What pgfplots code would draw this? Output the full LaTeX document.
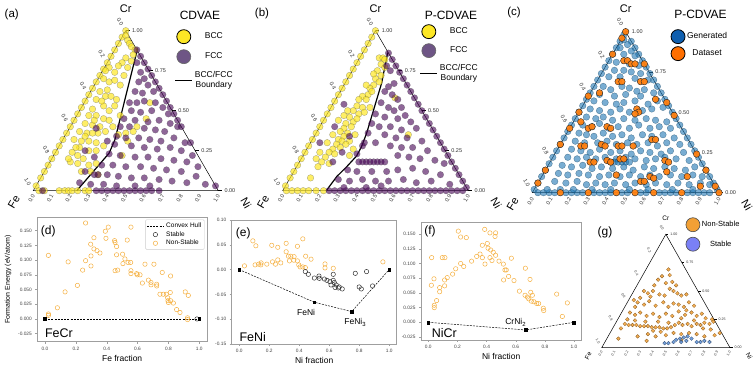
\documentclass[border=0pt]{standalone}
\usepackage{pgfplots}
\pgfplotsset{compat=1.18}
\usepackage{fontspec}
\setmainfont{Liberation Sans}

\definecolor{vy}{HTML}{FDE725}
\definecolor{vp}{HTML}{440154}
\definecolor{legP}{HTML}{6E5585}
\definecolor{tb}{HTML}{1F77B4}
\definecolor{to}{HTML}{FF7F0E}
\definecolor{legB}{HTML}{0F5FAF}
\definecolor{legO}{HTML}{FF6F00}
\definecolor{nso}{HTML}{F5B041}
\definecolor{gO}{HTML}{F2A035}
\definecolor{gB}{HTML}{5B8FD6}
\definecolor{legS}{HTML}{7A80F5}

\pgfplotsset{
  tern/.style={scale only axis, anchor=south west, xmin=0, xmax=1, ymin=0, ymax=1,
    hide axis, clip=false, legend cell align=center,
    legend style={draw=none, fill=none, anchor=north west, inner sep=0pt,
      font=\fontsize{8.5}{10}\selectfont, nodes={align=center}}},
  ye/.style={only marks, mark=*, mark size=3.3pt, forget plot,
    mark options={fill=vy, fill opacity=0.7, draw=black!70, draw opacity=0.5, line width=0.3pt}},
  pu/.style={only marks, mark=*, mark size=3.3pt, forget plot,
    mark options={fill=vp, fill opacity=0.6, draw=black!70, draw opacity=0.5, line width=0.3pt}},
  gb/.style={only marks, mark=*, mark size=3.3pt, forget plot,
    mark options={fill=tb, fill opacity=0.6, draw=tb!50!black, draw opacity=0.6, line width=0.3pt}},
  go/.style={only marks, mark=*, mark size=3.3pt, forget plot,
    mark options={fill=to, fill opacity=0.95, draw=black!85, line width=0.4pt}},
  sc/.style={scale only axis, anchor=south west,
    axis line style={gray!75, line width=0.5pt},
    tick style={gray!75, line width=0.4pt}, tick align=outside, major tick length=2pt,
    xtick pos=bottom, ytick pos=left, scaled ticks=false,
    ticklabel style={font=\fontsize{4.8}{5}\selectfont, text=black!75},
    /pgf/number format/assume math mode=true,
    xticklabel style={/pgf/number format/.cd, fixed, fixed zerofill, precision=1},
    xtick={0,0.2,0.4,0.6,0.8,1.0}, xmin=-0.05, xmax=1.05,
    xlabel style={font=\fontsize{8.5}{10}\selectfont, yshift=2pt},
    ylabel style={font=\fontsize{7}{8}\selectfont}},
  nons/.style={only marks, mark=o, mark size=2.2pt, mark options={draw=nso, line width=0.5pt}},
  stab/.style={only marks, mark=o, mark size=2.2pt, mark options={draw=black!80, line width=0.5pt}},
  hull/.style={black, dash pattern=on 2pt off 1.2pt, line width=0.5pt},
  hullpts/.style={only marks, mark=square*, mark size=1.4pt, black, forget plot}
}

% ternary frame, tick labels and corner labels; #1 tick font size, #2 corner font size
\newcommand\ternframe[2]{%
  \draw[line width=0.5pt] (axis cs:0,0) -- (axis cs:1,0) -- (axis cs:0.5,1) -- cycle;
  \draw[line width=0.4pt] (axis cs:0.5,1) -- (axis cs:0.52,1) (axis cs:0.625,0.75) -- (axis cs:0.645,0.75)
    (axis cs:0.75,0.5) -- (axis cs:0.77,0.5) (axis cs:0.875,0.25) -- (axis cs:0.895,0.25)
    (axis cs:1,0) -- (axis cs:1.02,0);
  \begin{scope}[every node/.style={font=\fontsize{#1}{#1}\selectfont, text=black!80, inner sep=0.5pt}]
  \node[rotate=-60] at (axis cs:0.47,1.058) {0.0};
  \node[rotate=-60] at (axis cs:0.37,0.858) {0.2};
  \node[rotate=-60] at (axis cs:0.27,0.658) {0.4};
  \node[rotate=-60] at (axis cs:0.17,0.458) {0.6};
  \node[rotate=-60] at (axis cs:0.07,0.258) {0.8};
  \node[rotate=-60] at (axis cs:-0.03,0.058) {1.0};
  \node[anchor=west] at (axis cs:0.53,1) {1.00};
  \node[anchor=west] at (axis cs:0.655,0.75) {0.75};
  \node[anchor=west] at (axis cs:0.78,0.5) {0.50};
  \node[anchor=west] at (axis cs:0.905,0.25) {0.25};
  \node[anchor=west] at (axis cs:1.03,0) {0.00};
  \node[rotate=60] at (axis cs:-0.009,-0.05) {0.0};
  \node[rotate=60] at (axis cs:0.091,-0.05) {0.1};
  \node[rotate=60] at (axis cs:0.191,-0.05) {0.2};
  \node[rotate=60] at (axis cs:0.291,-0.05) {0.3};
  \node[rotate=60] at (axis cs:0.391,-0.05) {0.4};
  \node[rotate=60] at (axis cs:0.491,-0.05) {0.5};
  \node[rotate=60] at (axis cs:0.591,-0.05) {0.6};
  \node[rotate=60] at (axis cs:0.691,-0.05) {0.7};
  \node[rotate=60] at (axis cs:0.791,-0.05) {0.8};
  \node[rotate=60] at (axis cs:0.891,-0.05) {0.9};
  \node[rotate=60] at (axis cs:0.991,-0.05) {1.0};
  \end{scope}
  \node[font=\fontsize{#2}{#2}\selectfont] at (axis cs:0.5,1.14) {Cr};
  \node[font=\fontsize{#2}{#2}\selectfont, rotate=60] at (axis cs:-0.105,-0.07) {Fe};
  \node[font=\fontsize{#2}{#2}\selectfont, rotate=-60] at (axis cs:1.15,-0.075) {Ni};
}

\begin{document}
\begin{tikzpicture}[x=1pt,y=1pt]
\useasboundingbox (0,0) rectangle (754,366);

% ---------------- (a) CDVAE ----------------
\begin{axis}[tern, at={(33.3pt,175.3pt)}, width=185pt, height=160pt,
  legend style={at={(0.763,1.0075)}, row sep=6pt}]
\addlegendimage{only marks, mark=*, mark size=7pt, mark options={fill=vy, draw=black, line width=0.8pt}}
\addlegendentry{BCC}
\addlegendimage{only marks, mark=*, mark size=7pt, mark options={fill=legP, draw=black!60, line width=0.6pt}}
\addlegendentry{FCC}
\addlegendimage{black, line width=1.2pt}
\addlegendentry{BCC/FCC\\Boundary}
\ternframe{5.5}{11}
\addplot[ye] coordinates {
(0.015,0.03)(0.04,0.08)(0.06,0.12)(0.08,0.16)(0.10,0.20)(0.12,0.24)(0.14,0.28)(0.16,0.32)(0.18,0.36)
(0.20,0.40)(0.22,0.44)(0.24,0.48)(0.26,0.52)(0.28,0.56)(0.30,0.60)(0.32,0.64)(0.34,0.68)(0.36,0.72)
(0.38,0.76)(0.40,0.80)(0.42,0.84)(0.44,0.88)(0.46,0.92)(0.48,0.96)(0.50,1.0)
(0.03,0)(0.06,0)(0.14,0)(0.17,0)(0.19,0)(0.21,0)(0.24,0)(0.28,0)(0.30,0)
(0.50,0.97)(0.51,0.94)(0.52,0.92)(0.53,0.90)(0.55,0.88)(0.54,0.85)(0.50,0.83)(0.53,0.81)(0.48,0.80)
(0.51,0.77)(0.46,0.78)(0.41,0.77)(0.44,0.74)(0.38,0.70)(0.41,0.68)(0.44,0.69)(0.47,0.66)(0.49,0.72)
(0.39,0.75)(0.36,0.62)(0.39,0.59)(0.42,0.59)(0.45,0.57)(0.34,0.57)(0.38,0.53)(0.44,0.53)(0.41,0.50)
(0.32,0.51)(0.30,0.47)(0.34,0.47)(0.38,0.45)(0.41,0.44)(0.28,0.42)(0.32,0.41)(0.36,0.40)(0.43,0.40)
(0.25,0.37)(0.29,0.36)(0.35,0.36)(0.39,0.37)(0.22,0.32)(0.26,0.31)(0.30,0.31)(0.34,0.30)(0.38,0.28)
(0.25,0.27)(0.30,0.25)(0.34,0.25)(0.21,0.24)(0.24,0.22)(0.20,0.18)(0.24,0.17)(0.30,0.16)(0.34,0.17)
(0.26,0.12)(0.31,0.12)(0.19,0.20)(0.27,0.20)(0.61,0.45)(0.51,0.31)(0.56,0.40)(0.54,0.37)(0.50,0.36)
(0.63,0.55)(0.48,0.22)(0.35,0.10)(0.47,0.47)(0.46,0.35)(0.32,0.36)(0.23,0.27)(0.28,0.34)(0.40,0.63)
(0.37,0.56)(0.33,0.44)
};
\addplot[pu] coordinates {
(0.80,0.40)(0.78,0.44)(0.76,0.48)(0.74,0.52)(0.72,0.56)(0.70,0.60)(0.68,0.64)(0.66,0.68)(0.64,0.72)
(0.62,0.76)(0.60,0.80)(0.58,0.84)(0.56,0.88)(0.85,0.30)(0.985,0.03)
(0.34,0)(0.37,0)(0.40,0)(0.43,0)(0.46,0)(0.49,0)(0.52,0)(0.55,0)(0.58,0)(0.61,0)(0.64,0)(0.68,0)(0.05,0)
(0.56,0.80)(0.58,0.74)(0.60,0.70)(0.57,0.68)(0.62,0.66)(0.55,0.62)(0.59,0.61)(0.65,0.62)
(0.52,0.55)(0.56,0.55)(0.60,0.56)(0.66,0.55)(0.70,0.52)(0.53,0.50)(0.58,0.49)(0.64,0.50)(0.73,0.48)
(0.49,0.45)(0.55,0.44)(0.62,0.43)(0.68,0.44)(0.74,0.42)(0.78,0.40)(0.47,0.40)(0.52,0.40)(0.60,0.39)
(0.66,0.38)(0.71,0.37)(0.45,0.34)(0.50,0.33)(0.57,0.33)(0.63,0.32)(0.69,0.31)(0.76,0.33)(0.82,0.30)
(0.44,0.29)(0.53,0.28)(0.60,0.27)(0.67,0.26)(0.74,0.27)(0.80,0.25)(0.86,0.22)
(0.41,0.23)(0.47,0.22)(0.55,0.21)(0.62,0.21)(0.69,0.20)(0.76,0.19)(0.83,0.18)(0.89,0.15)
(0.37,0.16)(0.43,0.16)(0.50,0.15)(0.58,0.15)(0.65,0.14)(0.72,0.13)(0.80,0.12)(0.88,0.09)
(0.33,0.10)(0.40,0.10)(0.46,0.09)(0.53,0.08)(0.60,0.08)(0.68,0.07)(0.75,0.06)(0.83,0.05)(0.93,0.04)
(0.25,0.05)(0.31,0.04)(0.38,0.04)(0.45,0.03)(0.55,0.03)(0.63,0.03)
(0.35,0.10)(0.28,0.12)(0.33,0.21)(0.40,0.31)(0.34,0.39)(0.28,0.25)
};
\addplot[black, line width=1.2pt, forget plot] coordinates {
(0.564,0.889)(0.441,0.318)(0.41,0.235)(0.235,0)};
\end{axis}

% ---------------- (b) P-CDVAE ----------------
\begin{axis}[tern, at={(282.7pt,175.3pt)}, width=185.6pt, height=160pt,
  legend style={at={(0.737,1.039)}, row sep=5pt}]
\addlegendimage{only marks, mark=*, mark size=7pt, mark options={fill=vy, draw=black, line width=0.8pt}}
\addlegendentry{BCC}
\addlegendimage{only marks, mark=*, mark size=7pt, mark options={fill=legP, draw=black!60, line width=0.6pt}}
\addlegendentry{FCC}
\addlegendimage{black, line width=1.2pt}
\addlegendentry{BCC/FCC\\Boundary}
\ternframe{5.5}{11}
\addplot[ye] coordinates {
(0.015,0.03)(0.04,0.08)(0.06,0.12)(0.08,0.16)(0.10,0.20)(0.12,0.24)(0.14,0.28)(0.16,0.32)(0.18,0.36)
(0.20,0.40)(0.22,0.44)(0.24,0.48)(0.26,0.52)(0.28,0.56)(0.30,0.60)(0.32,0.64)(0.34,0.68)(0.36,0.72)
(0.38,0.76)(0.40,0.80)(0.42,0.84)(0.44,0.88)(0.46,0.92)(0.48,0.96)(0.50,1.0)
(0.02,0)(0.05,0)(0.08,0)(0.11,0)(0.14,0)(0.18,0)(0.22,0)
(0.52,0.83)(0.54,0.83)(0.55,0.82)(0.53,0.79)(0.55,0.77)(0.51,0.75)(0.53,0.72)(0.50,0.70)(0.52,0.68)
(0.49,0.66)(0.47,0.64)(0.45,0.66)(0.46,0.60)(0.43,0.59)(0.41,0.57)(0.45,0.57)(0.40,0.53)(0.43,0.52)
(0.38,0.50)(0.41,0.48)(0.36,0.46)(0.38,0.43)(0.34,0.42)(0.37,0.40)(0.33,0.39)(0.35,0.36)(0.31,0.37)
(0.33,0.34)(0.30,0.32)(0.32,0.31)(0.29,0.29)(0.31,0.27)(0.27,0.26)(0.25,0.24)(0.28,0.23)(0.23,0.21)
(0.21,0.18)(0.25,0.17)(0.19,0.15)(0.15,0.08)(0.36,0.31)(0.39,0.35)(0.34,0.29)(0.30,0.44)(0.33,0.47)
(0.35,0.50)(0.27,0.35)(0.24,0.30)(0.40,0.45)(0.44,0.49)(0.48,0.62)(0.49,0.73)(0.47,0.52)(0.36,0.22)
(0.20,0.24)(0.18,0.20)(0.38,0.26)(0.605,0.58)(0.677,0.35)
};
\addplot[pu] coordinates {
(0.99,0.02)(0.97,0.06)(0.95,0.10)(0.93,0.14)(0.91,0.18)(0.89,0.22)(0.87,0.26)(0.85,0.30)(0.83,0.34)
(0.81,0.38)(0.79,0.42)(0.77,0.46)(0.75,0.50)(0.73,0.54)(0.71,0.58)(0.69,0.62)(0.67,0.66)(0.65,0.70)
(0.63,0.74)(0.61,0.78)(0.59,0.82)(0.57,0.86)
(0.25,0)(0.28,0)(0.31,0)(0.34,0)(0.37,0)(0.40,0)(0.43,0)(0.46,0)(0.49,0)(0.52,0)(0.55,0)(0.58,0)
(0.61,0)(0.64,0)(0.67,0)(0.70,0)(0.73,0)(0.76,0)(0.79,0)(0.82,0)(0.85,0)(0.88,0)(0.91,0)(0.94,0)(0.97,0)
(0.56,0.78)(0.58,0.75)(0.60,0.67)(0.57,0.65)(0.55,0.62)(0.59,0.60)(0.62,0.57)(0.53,0.55)(0.57,0.52)
(0.60,0.50)(0.64,0.52)(0.50,0.48)(0.55,0.46)(0.62,0.45)(0.66,0.47)(0.69,0.43)(0.48,0.42)(0.52,0.40)
(0.58,0.40)(0.64,0.38)(0.72,0.39)(0.46,0.36)(0.55,0.35)(0.61,0.33)(0.67,0.33)(0.75,0.31)(0.44,0.30)
(0.50,0.30)(0.58,0.28)(0.64,0.27)(0.70,0.27)(0.78,0.25)
(0.41,0.18)(0.43,0.18)(0.45,0.18)(0.47,0.18)(0.49,0.18)(0.51,0.18)(0.53,0.18)(0.55,0.18)
(0.40,0.23)(0.62,0.22)(0.68,0.21)(0.74,0.20)(0.82,0.19)(0.87,0.17)
(0.35,0.13)(0.40,0.12)(0.48,0.12)(0.56,0.12)(0.62,0.13)(0.70,0.14)(0.77,0.12)(0.85,0.10)
(0.30,0.07)(0.36,0.06)(0.43,0.07)(0.50,0.06)(0.57,0.06)(0.65,0.07)(0.72,0.05)(0.80,0.06)(0.90,0.04)
(0.33,0.02)(0.45,0.02)(0.53,0.03)
(0.36,0.34)(0.32,0.24)(0.20,0.30)(0.27,0.18)(0.33,0.54)(0.28,0.40)(0.43,0.28)
};
\addplot[black, line width=1.2pt, forget plot] coordinates {
(0.566,0.864)(0.551,0.777)(0.533,0.672)(0.506,0.568)(0.479,0.463)(0.452,0.359)(0.425,0.276)
(0.398,0.217)(0.345,0.150)(0.291,0.088)(0.241,0.010)(0.235,0)};
\end{axis}

% ---------------- (c) generated vs dataset ----------------
\begin{axis}[tern, at={(532.3pt,173.3pt)}, width=186.7pt, height=161pt,
  legend style={at={(0.742,1.014)}, row sep=3pt}]
\addlegendimage{only marks, mark=*, mark size=7pt, mark options={fill=legB, draw=black, line width=0.8pt}}
\addlegendentry{Generated}
\addlegendimage{only marks, mark=*, mark size=7pt, mark options={fill=legO, draw=black, line width=0.8pt}}
\addlegendentry{Dataset}
\ternframe{5.5}{11}
\addplot[gb] coordinates {
(0.01,0.02)(0.03,0.06)(0.05,0.10)(0.07,0.14)(0.09,0.18)(0.11,0.22)(0.13,0.26)(0.15,0.30)(0.17,0.34)
(0.19,0.38)(0.21,0.42)(0.23,0.46)(0.25,0.50)(0.27,0.54)(0.29,0.58)(0.31,0.62)(0.33,0.66)(0.35,0.70)
(0.37,0.74)(0.39,0.78)(0.41,0.82)(0.43,0.86)(0.45,0.90)(0.47,0.94)(0.49,0.98)
(0.99,0.02)(0.97,0.06)(0.95,0.10)(0.93,0.14)(0.91,0.18)(0.89,0.22)(0.87,0.26)(0.85,0.30)(0.83,0.34)
(0.81,0.38)(0.79,0.42)(0.77,0.46)(0.75,0.50)(0.73,0.54)(0.71,0.58)(0.69,0.62)(0.67,0.66)(0.65,0.70)
(0.63,0.74)(0.61,0.78)(0.59,0.82)(0.57,0.86)(0.55,0.90)(0.53,0.94)
(0.03,0)(0.06,0)(0.09,0)(0.12,0)(0.18,0)(0.21,0)(0.24,0)(0.27,0)(0.33,0)(0.36,0)(0.39,0)(0.42,0)
(0.48,0)(0.51,0)(0.58,0)(0.61,0)(0.68,0)(0.71,0)(0.74,0)(0.77,0)(0.83,0)(0.86,0)(0.89,0)(0.92,0)(0.95,0)
(0.49,0.95)(0.51,0.92)(0.47,0.90)(0.53,0.88)(0.49,0.86)(0.55,0.85)
(0.45,0.81)(0.52,0.80)(0.57,0.79)(0.44,0.76)(0.49,0.76)(0.53,0.75)(0.58,0.74)(0.41,0.72)(0.47,0.72)
(0.55,0.71)(0.62,0.70)
(0.38,0.66)(0.42,0.64)(0.48,0.66)(0.52,0.65)(0.56,0.63)(0.60,0.64)(0.65,0.62)(0.36,0.61)(0.44,0.60)
(0.50,0.61)(0.58,0.60)
(0.33,0.57)(0.39,0.56)(0.45,0.55)(0.49,0.56)(0.55,0.57)(0.62,0.55)(0.67,0.57)(0.31,0.52)(0.36,0.51)
(0.42,0.50)(0.47,0.52)(0.52,0.50)(0.59,0.51)(0.64,0.52)(0.70,0.53)
(0.29,0.47)(0.34,0.46)(0.38,0.47)(0.43,0.45)(0.49,0.46)(0.55,0.45)(0.61,0.46)(0.66,0.45)(0.72,0.44)
(0.27,0.42)(0.32,0.41)(0.36,0.43)(0.41,0.40)(0.46,0.41)(0.52,0.40)(0.57,0.42)(0.63,0.40)(0.68,0.41)
(0.74,0.40)
(0.25,0.37)(0.29,0.36)(0.33,0.35)(0.38,0.37)(0.43,0.35)(0.48,0.36)(0.53,0.34)(0.59,0.36)(0.64,0.35)
(0.70,0.36)(0.76,0.34)(0.23,0.32)(0.28,0.31)(0.35,0.31)(0.40,0.32)(0.45,0.30)(0.51,0.31)(0.56,0.30)
(0.62,0.31)(0.67,0.29)(0.72,0.31)(0.79,0.30)
(0.21,0.27)(0.26,0.26)(0.31,0.25)(0.36,0.27)(0.42,0.25)(0.47,0.26)(0.53,0.24)(0.58,0.26)(0.63,0.25)
(0.69,0.24)(0.74,0.26)(0.81,0.25)(0.19,0.22)(0.24,0.21)(0.29,0.22)(0.34,0.21)(0.39,0.22)(0.45,0.21)
(0.50,0.22)(0.55,0.21)(0.61,0.20)(0.66,0.21)(0.71,0.22)(0.77,0.21)(0.84,0.20)
(0.42,0.19)(0.44,0.19)(0.46,0.19)(0.48,0.19)(0.50,0.19)(0.52,0.19)
(0.16,0.17)(0.21,0.16)(0.27,0.17)(0.32,0.15)(0.37,0.16)(0.43,0.15)(0.49,0.16)(0.54,0.14)(0.60,0.16)
(0.65,0.15)(0.71,0.16)(0.76,0.15)(0.82,0.14)(0.87,0.16)(0.14,0.12)(0.19,0.11)(0.25,0.12)(0.30,0.11)
(0.36,0.10)(0.41,0.11)(0.47,0.10)(0.52,0.11)(0.58,0.10)(0.63,0.11)(0.68,0.10)(0.74,0.11)(0.80,0.10)
(0.86,0.11)(0.91,0.10)
(0.12,0.07)(0.18,0.06)(0.24,0.07)(0.29,0.05)(0.34,0.06)(0.39,0.05)(0.44,0.06)(0.50,0.05)(0.55,0.06)
(0.61,0.05)(0.66,0.06)(0.72,0.05)(0.78,0.06)(0.84,0.05)(0.90,0.06)(0.95,0.05)(0.08,0.02)(0.15,0.02)
(0.22,0.02)(0.32,0.02)(0.42,0.02)(0.52,0.02)(0.62,0.02)(0.75,0.02)(0.86,0.02)
};
\addplot[go] coordinates {
(0.49,0.82)(0.51,0.82)(0.53,0.80)(0.55,0.80)(0.46,0.69)(0.48,0.69)(0.58,0.69)(0.60,0.69)(0.56,0.52)
(0.57,0.50)(0.55,0.49)(0.30,0.40)(0.32,0.41)(0.40,0.41)(0.42,0.40)(0.26,0.29)(0.28,0.29)(0.37,0.30)
(0.39,0.29)(0.46,0.29)(0.48,0.29)(0.54,0.29)(0.64,0.33)(0.66,0.33)(0.31,0.19)(0.33,0.19)(0.40,0.20)
(0.42,0.19)(0.47,0.21)(0.49,0.21)(0.71,0.20)(0.73,0.19)(0.63,0.10)(0.65,0.09)(0.45,0.11)(0.58,0.07)
(0.60,0.07)(0.83,0.10)(0.26,0.44)(0.66,0.58)(0.36,0.62)(0.72,0.13)(0.90,0.04)
(0.48,0.96)(0.43,0.86)(0.30,0.60)(0.25,0.50)(0.20,0.40)(0.15,0.30)(0.07,0.14)(0.03,0.06)
(0.15,0)(0.30,0)(0.45,0)(0.55,0)(0.65,0)(0.80,0)(1.0,0)
(0.60,0.80)(0.72,0.56)(0.76,0.48)(0.88,0.24)(0.93,0.14)(0.98,0.04)(0.5,1.0)
};
\end{axis}

% ---------------- (d) FeCr ----------------
\begin{axis}[sc, at={(37.3pt,24.3pt)}, width=169.7pt, height=124pt,
  ymin=-0.0386, ymax=0.172,
  ytick={-0.025,0,0.025,0.05,0.075,0.1,0.125,0.15},
  yticklabel style={/pgf/number format/.cd, fixed, fixed zerofill, precision=3},
  xlabel={Fe fraction}, ylabel={Formation Energy (eV/atom)},
  legend style={at={(0.985,0.985)}, anchor=north east, draw=gray!40, rounded corners=1pt,
    font=\fontsize{6.5}{7}\selectfont, inner sep=1pt, row sep=-1.5pt},
  legend cell align=left]
\addplot[hull] coordinates {(0,0)(1,0)};
\addlegendentry{Convex Hull}
\addplot[stab] coordinates {(0.985,0)};
\addlegendentry{Stable}
\addplot[nons] coordinates {
(0.022,0.108)(0.022,0.0085)(0.022,0.006)(0.08,0.019)(0.13,0.046)(0.15,0.097)(0.21,0.057)(0.244,0.083)
(0.263,0.099)(0.263,0.163)(0.298,0.090)(0.298,0.107)(0.296,0.127)(0.317,0.138)(0.317,0.119)
(0.337,0.116)(0.356,0.112)(0.395,0.137)(0.391,0.149)(0.41,0.156)(0.454,0.082)(0.471,0.083)
(0.451,0.133)(0.454,0.130)(0.464,0.123)(0.464,0.109)(0.503,0.110)(0.518,0.102)(0.505,0.094)
(0.538,0.096)(0.533,0.134)(0.557,0.156)(0.555,0.096)(0.557,0.082)(0.557,0.077)(0.594,0.077)
(0.598,0.075)(0.616,0.075)(0.648,0.093)(0.706,0.093)(0.631,0.061)(0.67,0.066)(0.687,0.062)
(0.687,0.058)(0.724,0.059)(0.724,0.056)(0.745,0.042)(0.76,0.079)(0.767,0.042)(0.786,0.042)
(0.795,0.036)(0.797,0.031)(0.814,0.073)(0.812,0.045)(0.814,0.031)(0.832,0.027)(0.80,0.028)
(0.853,0.016)(0.875,0.011)(0.909,0.046)(0.929,0.040)(0.924,0.002)(0.924,-0.001)
};
\addlegendentry{Non-Stable}
\addplot[hullpts] coordinates {(0,0)(1,0)};
\end{axis}

% ---------------- (e) FeNi ----------------
\begin{axis}[sc, at={(231.7pt,22pt)}, width=165pt, height=124pt,
  ymin=-0.15, ymax=0.10,
  ytick={-0.15,-0.1,-0.05,0,0.05,0.1},
  yticklabel style={/pgf/number format/.cd, fixed, fixed zerofill, precision=2},
  xlabel={Ni fraction}]
\addplot[hull, forget plot] coordinates {(0,0)(0.5,-0.0657)(0.75,-0.0847)(1,0)};
\addplot[hullpts] coordinates {(0,0)(0.5,-0.0657)(0.75,-0.0847)(1,0)};
\addplot[nons] coordinates {
(0.035,0.0075)(0.091,0.058)(0.111,0.048)(0.106,0.0095)(0.129,0.011)(0.146,0.0135)(0.144,0.0095)
(0.184,0.011)(0.217,0.049)(0.222,0.0156)(0.242,0.011)(0.257,0.045)(0.257,0.0196)(0.277,0.0135)
(0.313,0.053)(0.313,0.036)(0.328,0.027)(0.335,0.0176)(0.344,0.027)(0.366,0.026)(0.364,0.019)
(0.388,0.047)(0.388,0.0176)(0.397,0.0095)(0.406,0.0054)(0.424,0.062)(0.424,0.0054)(0.443,0.027)
(0.441,0.004)(0.479,0.021)(0.572,0.0115)(0.572,0.0034)(0.627,0.0027)(0.958,0.0156)
};
\addplot[stab] coordinates {
(0.441,-0.004)(0.461,-0.0095)(0.501,-0.017)(0.532,-0.013)(0.534,-0.0176)(0.568,-0.019)(0.585,-0.0217)
(0.605,-0.0244)(0.612,-0.031)(0.627,-0.0095)(0.627,-0.0217)(0.634,-0.026)(0.639,-0.036)(0.647,-0.031)
(0.667,-0.035)(0.661,-0.037)(0.687,-0.039)(0.774,-0.0075)(0.80,-0.035)(0.814,-0.039)(0.849,-0.004)
(0.889,-0.033)
};
\node[font=\fontsize{8.5}{9}\selectfont] at (axis cs:0.446,-0.087) {FeNi};
\node[font=\fontsize{8.5}{9}\selectfont] at (axis cs:0.774,-0.1065) {FeNi\textsubscript{3}};
\end{axis}

% ---------------- (f) NiCr ----------------
\begin{axis}[sc, at={(421pt,26pt)}, width=160.3pt, height=117.7pt,
  ymin=-0.030, ymax=0.170,
  ytick={-0.025,0,0.025,0.05,0.075,0.1,0.125,0.15},
  yticklabel style={/pgf/number format/.cd, fixed, fixed zerofill, precision=3},
  xlabel={Ni fraction}]
\addplot[hull, forget plot] coordinates {(0,0)(0.667,-0.013)(1,0)};
\addplot[hullpts] coordinates {(0,0)(0.667,-0.013)(1,0)};
\addplot[nons] coordinates {
(0.023,0.110)(0.021,0.063)(0.039,0.074)(0.041,0.029)(0.041,0.025)(0.057,0.037)(0.078,0.059)
(0.078,0.052)(0.096,0.110)(0.114,0.110)(0.112,0.072)(0.112,0.062)(0.130,0.076)(0.167,0.082)
(0.188,0.091)(0.206,0.155)(0.222,0.145)(0.222,0.100)(0.243,0.095)(0.261,0.144)(0.297,0.104)
(0.332,0.112)(0.355,0.116)(0.371,0.131)(0.371,0.110)(0.387,0.158)(0.389,0.099)(0.405,0.134)
(0.41,0.126)(0.423,0.152)(0.423,0.110)(0.428,0.123)(0.437,0.105)(0.446,0.119)(0.458,0.146)
(0.462,0.152)(0.462,0.114)(0.485,0.104)(0.515,0.099)(0.517,0.072)(0.526,0.089)(0.535,0.089)
(0.551,0.078)(0.570,0.109)(0.588,0.071)(0.625,0.053)(0.664,0.046)(0.666,0.092)(0.680,0.043)
(0.689,0.040)(0.698,0.073)(0.703,0.051)(0.714,0.046)(0.707,0.036)(0.725,0.035)(0.744,0.032)
(0.757,0.032)(0.789,0.024)(0.792,0.020)(0.881,0.048)(0.92,0.010)(0.954,0.033)
};
\node[font=\fontsize{8.5}{9}\selectfont] at (axis cs:0.60,0.0) {CrNi\textsubscript{2}};
\end{axis}

% ---------------- (g) stability ternary ----------------
\begin{axis}[tern, at={(601.7pt,18.3pt)}, width=128.3pt, height=113.4pt,
  legend style={at={(0.655,1.148)}, row sep=5.5pt, font=\fontsize{7.5}{9}\selectfont}]
\addlegendimage{only marks, mark=*, mark size=7pt, mark options={fill=gO, draw=black!70, line width=0.6pt}}
\addlegendentry{Non-Stable}
\addlegendimage{only marks, mark=*, mark size=7pt, mark options={fill=legS, draw=black!70, line width=0.6pt}}
\addlegendentry{Stable}
\ternframe{3.6}{6.5}
\addplot[only marks, mark=*, mark size=1.9pt, forget plot,
  mark options={fill=gO, fill opacity=0.85, draw=gO!55!black, line width=0.25pt}] coordinates {
(0.44,0.60)(0.47,0.63)(0.53,0.64)(0.52,0.69)(0.41,0.55)(0.55,0.58)(0.58,0.55)(0.50,0.57)
(0.33,0.50)(0.36,0.48)(0.40,0.50)(0.45,0.47)(0.53,0.52)(0.56,0.50)(0.59,0.48)(0.62,0.46)(0.30,0.44)
(0.38,0.45)(0.49,0.46)(0.66,0.47)
(0.25,0.42)(0.28,0.40)(0.33,0.38)(0.37,0.41)(0.42,0.37)(0.48,0.40)(0.52,0.36)(0.56,0.39)(0.60,0.38)
(0.64,0.36)(0.68,0.40)(0.72,0.37)(0.26,0.36)
(0.22,0.31)(0.26,0.29)(0.30,0.31)(0.35,0.28)(0.40,0.30)(0.45,0.27)(0.50,0.30)(0.55,0.28)(0.60,0.32)
(0.65,0.29)(0.70,0.31)(0.74,0.28)(0.78,0.30)(0.81,0.26)(0.62,0.26)(0.66,0.33)
(0.18,0.21)(0.21,0.20)(0.24,0.20)(0.27,0.20)(0.30,0.19)(0.33,0.19)(0.36,0.19)(0.39,0.18)(0.42,0.18)
(0.45,0.18)(0.48,0.17)(0.51,0.17)(0.54,0.18)(0.57,0.20)(0.60,0.22)(0.63,0.20)(0.67,0.21)(0.70,0.19)
(0.74,0.21)(0.77,0.20)(0.80,0.22)(0.84,0.21)(0.87,0.23)(0.86,0.25)(0.26,0.24)(0.34,0.23)(0.44,0.23)
(0.52,0.22)(0.72,0.24)(0.79,0.17)(0.85,0.16)(0.40,0.15)(0.46,0.14)
(0.13,0.08)(0.28,0.10)(0.36,0.12)(0.42,0.10)(0.50,0.11)(0.56,0.13)(0.62,0.12)(0.68,0.13)(0.74,0.12)
(0.80,0.10)(0.88,0.11)(0.92,0.13)(0.35,0.06)(0.62,0.07)(0.20,0.25)(0.15,0.17)
};
\addplot[only marks, mark=*, mark size=1.9pt, forget plot,
  mark options={fill=gB, fill opacity=0.85, draw=gB!50!black, line width=0.25pt}] coordinates {
(0.49,0.04)(0.52,0.04)(0.56,0.05)(0.58,0.07)(0.61,0.08)(0.64,0.09)(0.67,0.10)(0.70,0.08)(0.74,0.05)
(0.77,0.05)(0.80,0.06)(0.84,0.05)(0.62,0.05)(0.66,0.06)
};
\end{axis}

% panel letters and titles
\node[font=\fontsize{11.5}{12}\selectfont] at (11.7,351) {(a)};
\node[font=\fontsize{12}{13}\selectfont] at (200,351) {CDVAE};
\node[font=\fontsize{11.5}{12}\selectfont] at (262,352) {(b)};
\node[font=\fontsize{12}{13}\selectfont] at (451,351) {P-CDVAE};
\node[font=\fontsize{11.5}{12}\selectfont] at (514,353) {(c)};
\node[font=\fontsize{12}{13}\selectfont] at (700.5,352) {P-CDVAE};
\node[font=\fontsize{12}{13}\selectfont] at (48.3,135) {(d)};
\node[font=\fontsize{12.5}{13}\selectfont, anchor=west] at (41.5,33) {FeCr};
\node[font=\fontsize{12}{13}\selectfont] at (243.3,132.7) {(e)};
\node[font=\fontsize{12.5}{13}\selectfont, anchor=west] at (236,29.3) {FeNi};
\node[font=\fontsize{12}{13}\selectfont] at (430,134.3) {(f)};
\node[font=\fontsize{12.5}{13}\selectfont, anchor=west] at (428.3,32.7) {NiCr};
\node[font=\fontsize{12}{13}\selectfont] at (605,134) {(g)};
\end{tikzpicture}
\end{document}
